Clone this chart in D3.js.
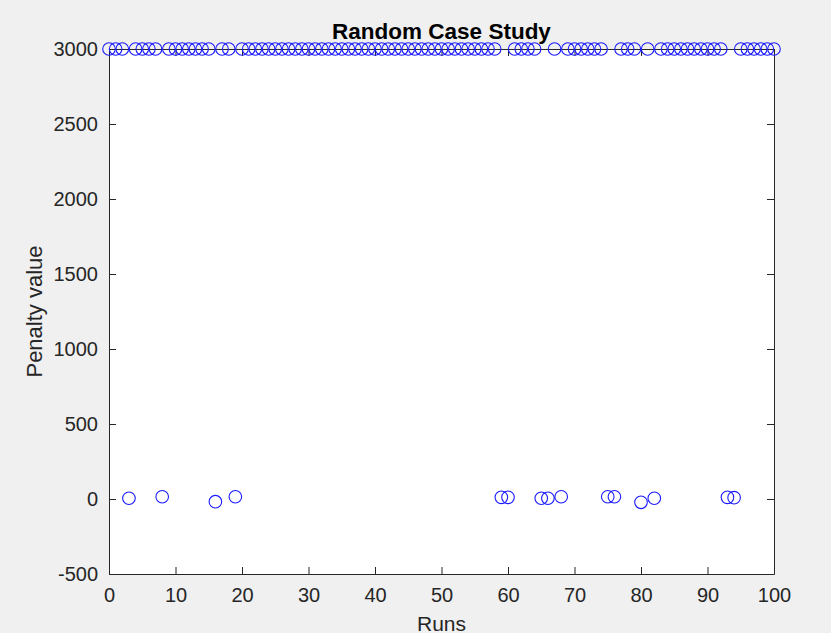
<!DOCTYPE html>
<html>
  <head>
    <meta charset="utf-8" />
    <style>
      body,
      html {
        margin: 0;
        padding: 0;
        background: #f0f0f0;
        overflow: hidden;
      }
      svg {
        display: block;
      }
    </style>
  </head>
  <body>
    <script src="https://cdn.jsdelivr.net/npm/d3@7/dist/d3.min.js"></script>
    <script>
      const width = 831;
      const height = 633;

      // runs that ended near zero, everything else sits at the 3000 cap
      const lowRuns = [3, 8, 16, 19, 59, 60, 65, 66, 68, 75, 76, 80, 82, 93, 94];
      const lowValues = [5, 15, -18, 15, 11, 11, 5, 5, 15, 15, 15, -22, 5, 11, 9];
      const capValue = 3000;
      const runs = d3.range(0, 101);

      const xTicks = [0, 10, 20, 30, 40, 50, 60, 70, 80, 90, 100];
      const yTicks = [-500, 0, 500, 1000, 1500, 2000, 2500, 3000];

      const points = runs.map(function (r) {
        const i = lowRuns.indexOf(r);
        return { run: r, value: i >= 0 ? lowValues[i] : capValue };
      });

      const margin = { left: 109, right: 831 - 774, top: 49, bottom: 633 - 574 };
      const innerW = width - margin.left - margin.right;
      const innerH = height - margin.top - margin.bottom;

      const x = d3.scaleLinear().domain([0, 100]).range([0, innerW]);
      const y = d3.scaleLinear().domain([-500, 3000]).range([innerH, 0]);

      const font = "'Liberation Sans', Arial, Helvetica, sans-serif";
      const ink = "#262626";
      const plain = (d) => String(d);

      const svg = d3
        .select("body")
        .append("svg")
        .attr("width", width)
        .attr("height", height)
        .style("background", "#f0f0f0");

      const g = svg
        .append("g")
        .attr("transform", `translate(${margin.left},${margin.top})`);

      g.append("rect")
        .attr("width", innerW)
        .attr("height", innerH)
        .attr("fill", "#fff");

      // axes with inward ticks, MATLAB style box
      function styleAxis(sel) {
        sel.selectAll("path").attr("stroke", ink).attr("stroke-width", 1);
        sel.selectAll("line").attr("stroke", ink).attr("stroke-width", 1);
        sel
          .selectAll("text")
          .attr("fill", ink)
          .style("font-family", font)
          .style("font-size", "20px");
      }

      g.append("g")
        .attr("transform", `translate(0,${innerH})`)
        .call(
          d3.axisBottom(x).tickValues(xTicks).tickFormat(plain)
            .tickSize(-7).tickSizeOuter(0).tickPadding(14)
        )
        .call(styleAxis);

      g.append("g")
        .call(
          d3.axisLeft(y).tickValues(yTicks).tickFormat(plain)
            .tickSize(-7).tickSizeOuter(0).tickPadding(11)
        )
        .call(styleAxis);

      g.append("g")
        .call(d3.axisTop(x).tickValues(xTicks).tickSize(-7).tickSizeOuter(0).tickFormat(""))
        .call(styleAxis);

      g.append("g")
        .attr("transform", `translate(${innerW},0)`)
        .call(d3.axisRight(y).tickValues(yTicks).tickSize(-7).tickSizeOuter(0).tickFormat(""))
        .call(styleAxis);

      g.selectAll(".domain").attr("fill", "none");

      g.append("g")
        .selectAll("circle")
        .data(points)
        .enter()
        .append("circle")
        .attr("cx", (d) => x(d.run))
        .attr("cy", (d) => y(d.value))
        .attr("r", 6.3)
        .attr("fill", "none")
        .attr("stroke", "#1a1aff")
        .attr("stroke-width", 1.1);

      svg
        .append("text")
        .attr("x", margin.left + innerW / 2)
        .attr("y", 39)
        .attr("text-anchor", "middle")
        .attr("fill", "#000")
        .style("font-family", font)
        .style("font-size", "22.5px")
        .style("font-weight", "bold")
        .text("Random Case Study");

      svg
        .append("text")
        .attr("x", margin.left + innerW / 2)
        .attr("y", 631)
        .attr("text-anchor", "middle")
        .attr("fill", ink)
        .style("font-family", font)
        .style("font-size", "21px")
        .text("Runs");

      svg
        .append("text")
        .attr("transform", `translate(42,${margin.top + innerH / 2}) rotate(-90)`)
        .attr("text-anchor", "middle")
        .attr("fill", ink)
        .style("font-family", font)
        .style("font-size", "22px")
        .text("Penalty value");
    </script>
  </body>
</html>
